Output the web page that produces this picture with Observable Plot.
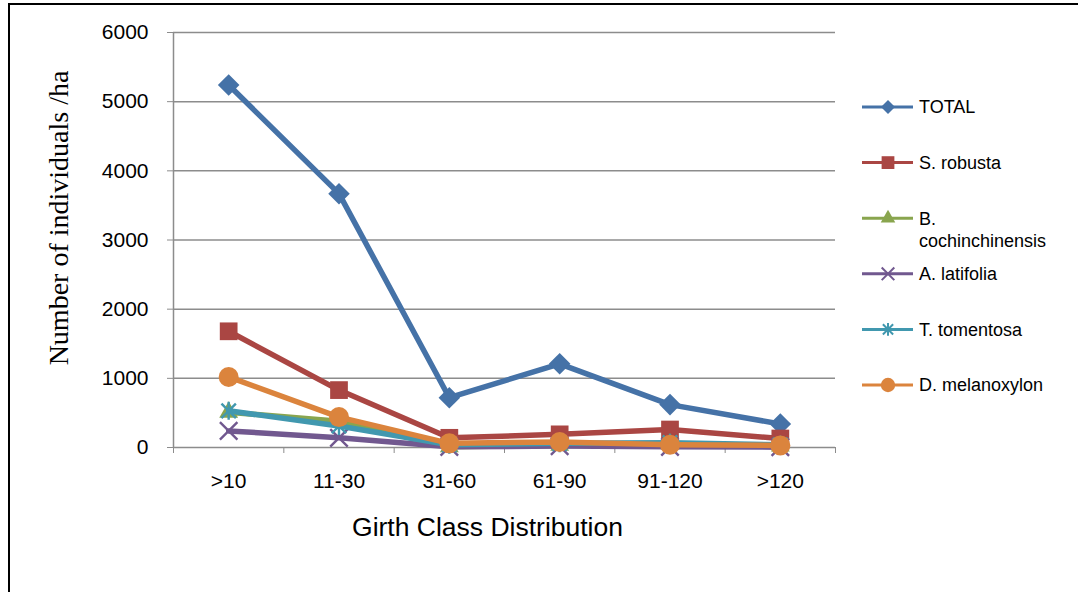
<!DOCTYPE html>
<html>
<head>
<meta charset="utf-8">
<script src="https://cdn.jsdelivr.net/npm/d3@7"></script>
<script src="https://cdn.jsdelivr.net/npm/@observablehq/plot@0.6"></script>
<style>
  html, body { margin: 0; padding: 0; background: #fff; }
  #wrap { position: relative; width: 1078px; height: 592px; overflow: hidden; background: #fff; }
  #frame { position: absolute; left: 8px; top: 3px; width: 1200px; height: 700px; border-left: 2px solid #000; border-top: 2px solid #000; box-sizing: border-box; }
  #chart { position: absolute; left: 0; top: 0; }
  #legend { position: absolute; left: 0; top: 0; }
</style>
</head>
<body>
<div id="wrap">
  <div id="frame"></div>
  <div id="chart"></div>
  <div id="legend"></div>
</div>
<script>
// ---- data ----
const categories = [">10", "11-30", "31-60", "61-90", "91-120", ">120"];
const seriesNames = ["TOTAL", "S. robusta", "B. cochinchinensis", "A. latifolia", "T. tomentosa", "D. melanoxylon"];
const total            = [5240, 3670, 720, 1210, 620, 340];
const sRobusta         = [1680, 830, 140, 190, 260, 130];
const bCochinchinensis = [510, 380, 10, 30, 50, 20];
const aLatifolia       = [240, 140, 10, 20, 10, 5];
const tTomentosa       = [530, 310, 40, 60, 70, 40];
const dMelanoxylon     = [1020, 440, 60, 80, 40, 30];
const yTicks = [0, 1000, 2000, 3000, 4000, 5000, 6000];
const yTitle = "Number of individuals /ha";
const xTitle = "Girth Class Distribution";

// ---- styling ----
const colors = ["#4572A7", "#AA4643", "#89A54E", "#71588F", "#4198AF", "#DB843D"];
// Excel-style star marker: an X with a vertical bar
const excelStar = {
  draw(context, size) {
    const r = Math.sqrt(size / Math.PI);
    const d = r * 0.8;
    context.moveTo(-d, -d); context.lineTo(d, d);
    context.moveTo(-d, d); context.lineTo(d, -d);
    context.moveTo(0, -r); context.lineTo(0, r);
  }
};
const symbols = [
  {symbol: "square", rotate: 45, r: 8.6, filled: true},
  {symbol: "square", rotate: 0, r: 10, filled: true},
  {symbol: "triangle", rotate: 0, r: 7, filled: true},
  {symbol: "times", rotate: 0, r: 8, filled: false},
  {symbol: excelStar, rotate: 0, r: 9, filled: false},
  {symbol: "circle", rotate: 0, r: 10, filled: true}
];
const seriesValues = [total, sRobusta, bCochinchinensis, aLatifolia, tTomentosa, dMelanoxylon];

const rows = [];
seriesNames.forEach((name, s) => {
  seriesValues[s].forEach((v, i) => rows.push({series: name, s, index: i, category: categories[i], value: v}));
});

const W = 1078, H = 592;
const mL = 173, mR = 243, mT = 32, mB = 145;
const grid = "#8c8c8c";
const boundaries = d3.range(categories.length + 1).map(i => i - 0.5);

const marks = [
  Plot.gridY(yTicks, {stroke: grid, strokeOpacity: 1, strokeWidth: 1.5}),
  Plot.ruleX([-0.5], {stroke: grid, strokeWidth: 1.5}),
  Plot.axisY({ticks: yTicks, tickSize: 6, tickPadding: 19, stroke: grid, strokeOpacity: 1, fill: "#000", fontSize: 21, label: null, tickFormat: d => String(d)}),
  Plot.axisX({ticks: boundaries, tickSize: 6, stroke: grid, strokeOpacity: 1, tickFormat: () => "", label: null}),
  Plot.text(categories, {x: (d, i) => i, frameAnchor: "bottom", dy: 40, fontSize: 21, fill: "#000", text: d => d}),
  Plot.text([xTitle], {frameAnchor: "bottom", dx: -17, dy: 88, fontSize: 26.5, fill: "#000"}),
  Plot.text([yTitle], {frameAnchor: "left", textAnchor: "middle", rotate: -90, dx: -114, dy: -22, fontSize: 28, fontFamily: "Liberation Serif, Times New Roman, serif", fill: "#000"})
];

seriesNames.forEach((name, s) => {
  const data = rows.filter(r => r.s === s);
  marks.push(Plot.line(data, {x: "index", y: "value", stroke: colors[s], strokeWidth: 5.5, strokeLinejoin: "round"}));
  const sym = symbols[s];
  if (sym.filled) {
    marks.push(Plot.dot(data, {x: "index", y: "value", symbol: sym.symbol, rotate: sym.rotate, r: sym.r, fill: colors[s], stroke: "none"}));
  } else {
    marks.push(Plot.dot(data, {x: "index", y: "value", symbol: sym.symbol, r: sym.r, stroke: colors[s], strokeWidth: 2.4, fill: "none"}));
  }
});

const chart = Plot.plot({
  width: W, height: H,
  marginLeft: mL, marginRight: mR, marginTop: mT, marginBottom: mB,
  x: {type: "linear", domain: [-0.5, categories.length - 0.5], axis: null},
  y: {type: "linear", domain: [0, 6000], axis: null},
  style: {fontFamily: "Liberation Sans, Arial, sans-serif", fontSize: "21px", color: "#000", background: "transparent", overflow: "visible"},
  marks
});
document.getElementById("chart").appendChild(chart);

// ---- legend ----
const lsvg = d3.select("#legend").append("svg").attr("width", W).attr("height", H)
  .style("font-family", "Liberation Sans, Arial, sans-serif").style("font-size", "18px");
const symMap = {square: d3.symbolSquare, triangle: d3.symbolTriangle, times: d3.symbolTimes, circle: d3.symbolCircle};
const legendSizes = [5.6, 7.2, 5.4, 5.8, 6.4, 7.2];
seriesNames.forEach((name, s) => {
  const y = 107 + s * 55.6;
  const g = lsvg.append("g");
  g.append("line").attr("x1", 862).attr("x2", 913).attr("y1", y).attr("y2", y)
    .attr("stroke", colors[s]).attr("stroke-width", 3);
  const sym = symbols[s];
  const r = legendSizes[s];
  const type = typeof sym.symbol === "string" ? symMap[sym.symbol] : sym.symbol;
  const path = d3.symbol(type, Math.PI * r * r)();
  const p = g.append("path").attr("d", path).attr("transform", `translate(888,${y}) rotate(${sym.rotate})`);
  if (sym.filled) p.attr("fill", colors[s]);
  else p.attr("fill", "none").attr("stroke", colors[s]).attr("stroke-width", 2);
  const lines = name.length > 16 ? [name.slice(0, name.indexOf(" ")), name.slice(name.indexOf(" ") + 1)] : [name];
  lines.forEach((t, k) => {
    g.append("text").attr("x", 919).attr("y", y + k * 22).attr("dy", "0.35em").attr("fill", "#000").text(t);
  });
});
</script>
</body>
</html>
